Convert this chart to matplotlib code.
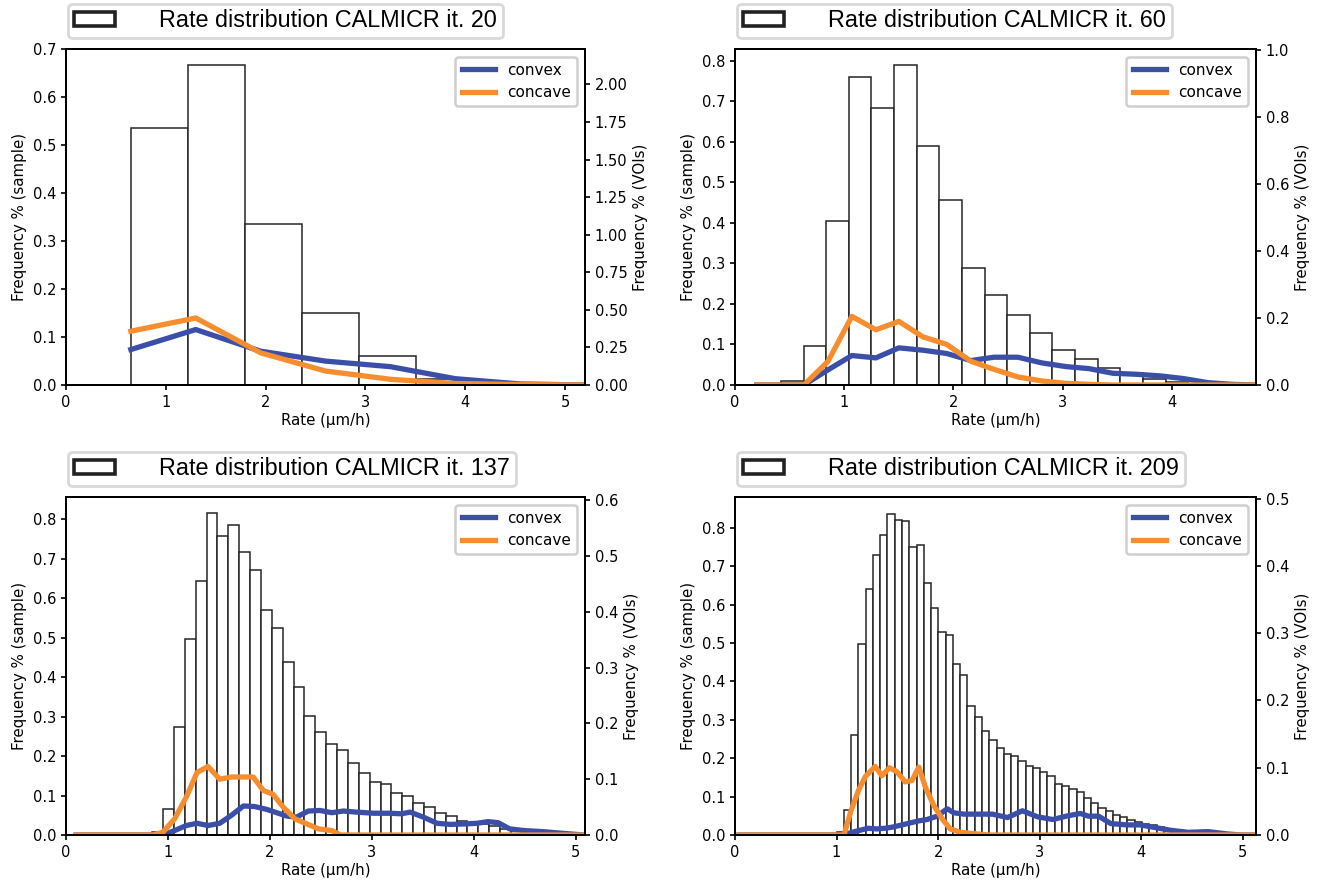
import numpy as np
import matplotlib
matplotlib.use("Agg")
import matplotlib.pyplot as plt
from matplotlib.patches import Patch

# --- data ------------------------------------------------------------------
iterations = [20, 60, 137, 209]

# histogram bin edges (first edge, last edge, number of bins) and densities
bins1 = (0.654, 4.077, 6)
hist1 = [0.535, 0.667, 0.335, 0.151, 0.060, 0.012]

bins2 = (0.42, 4.15, 18)
hist2 = [0.010, 0.096, 0.404, 0.761, 0.684, 0.790, 0.589, 0.456, 0.288,
         0.221, 0.173, 0.129, 0.086, 0.065, 0.043, 0.029, 0.016, 0.008]

bins3 = (0.846, 4.79, 37)
hist3 = [0.007, 0.065, 0.275, 0.496, 0.643, 0.817, 0.759, 0.787, 0.717,
         0.673, 0.571, 0.526, 0.439, 0.374, 0.302, 0.261, 0.230, 0.215,
         0.183, 0.158, 0.134, 0.130, 0.106, 0.098, 0.081, 0.070, 0.056,
         0.047, 0.036, 0.031, 0.028, 0.022, 0.015, 0.009, 0.006, 0.003,
         0.002]

bins4 = (0.928, 4.867, 55)
hist4 = [0.003, 0.009, 0.064, 0.261, 0.497, 0.640, 0.729, 0.780, 0.837,
         0.821, 0.817, 0.750, 0.754, 0.657, 0.591, 0.528, 0.521, 0.446,
         0.417, 0.335, 0.307, 0.270, 0.247, 0.226, 0.211, 0.206, 0.192,
         0.179, 0.174, 0.163, 0.154, 0.134, 0.127, 0.119, 0.111, 0.097,
         0.084, 0.071, 0.062, 0.053, 0.046, 0.039, 0.033, 0.029, 0.026,
         0.020, 0.016, 0.013, 0.010, 0.009, 0.007, 0.005, 0.004, 0.003,
         0.002]

# VOI curves (right axis)
x1 = [0.65, 1.30, 1.95, 2.60, 3.25, 3.90, 4.55, 5.20]
convex1 = [0.236, 0.369, 0.225, 0.159, 0.122, 0.042, 0.007, 0.0]
concave1 = [0.358, 0.446, 0.214, 0.093, 0.038, 0.010, 0.003, 0.0]

x2 = [0.20, 0.42, 0.63, 0.85, 1.07, 1.29, 1.50, 1.72, 1.94, 2.16, 2.37,
      2.59, 2.81, 3.03, 3.24, 3.46, 3.68, 3.90, 4.11, 4.33, 4.55, 4.77]
convex2 = [0, 0, 0, 0.045, 0.088, 0.081, 0.111, 0.104, 0.094, 0.073, 0.083,
           0.083, 0.066, 0.055, 0.049, 0.035, 0.032, 0.027, 0.019, 0.007,
           0.002, 0]
concave2 = [0, 0, 0, 0.070, 0.205, 0.165, 0.190, 0.144, 0.121, 0.071, 0.047,
            0.024, 0.012, 0.005, 0.002, 0, 0, 0, 0, 0, 0, 0]

x3_convex = [0.10, 0.95, 1.066, 1.18, 1.285, 1.393, 1.508, 1.62, 1.74, 1.85,
             1.967, 2.066, 2.164, 2.26, 2.377, 2.49, 2.607, 2.72, 2.85, 3.02,
             3.18, 3.29, 3.375, 3.505, 3.64, 3.77, 3.93, 4.03, 4.14, 4.24,
             4.35, 4.49, 4.68, 4.87, 5.08]
convex3 = [0, 0, 0.008, 0.017, 0.021, 0.017, 0.021, 0.035, 0.052, 0.051,
           0.046, 0.040, 0.034, 0.032, 0.043, 0.044, 0.040, 0.043, 0.041,
           0.039, 0.039, 0.038, 0.041, 0.032, 0.021, 0.019, 0.020, 0.021,
           0.024, 0.022, 0.011, 0.008, 0.006, 0.003, 0]
x3_concave = [0.10, 0.85, 0.95, 1.066, 1.18, 1.285, 1.393, 1.508, 1.62,
              1.73, 1.836, 1.934, 2.03, 2.13, 2.245, 2.36, 2.475, 2.607,
              2.69, 5.08]
concave3 = [0, 0, 0.005, 0.029, 0.068, 0.112, 0.123, 0.100, 0.104, 0.104,
            0.104, 0.080, 0.073, 0.050, 0.029, 0.020, 0.011, 0.008, 0.0, 0.0]

x4_convex = [0.04, 1.073, 1.15, 1.23, 1.31, 1.396, 1.478, 1.56, 1.644,
             1.726, 1.81, 1.89, 1.99, 2.089, 2.155, 2.254, 2.386, 2.535,
             2.683, 2.83, 2.98, 3.13, 3.26, 3.40, 3.48, 3.58, 3.70, 3.86,
             3.99, 4.14, 4.29, 4.46, 4.66, 4.85, 4.99, 5.13]
convex4 = [0, 0, 0.004, 0.007, 0.010, 0.009, 0.010, 0.012, 0.015, 0.018,
           0.021, 0.023, 0.028, 0.039, 0.033, 0.031, 0.031, 0.031, 0.026,
           0.036, 0.027, 0.023, 0.028, 0.032, 0.028, 0.028, 0.017, 0.015,
           0.015, 0.011, 0.007, 0.004, 0.005, 0.0015, 0, 0]
x4_concave = [0.04, 1.073, 1.142, 1.215, 1.284, 1.38, 1.446, 1.52, 1.594,
              1.676, 1.743, 1.81, 1.875, 1.957, 2.04, 2.12, 2.22, 2.386, 2.5,
              5.13]
concave4 = [0, 0, 0.036, 0.066, 0.087, 0.102, 0.088, 0.100, 0.094, 0.079,
            0.081, 0.101, 0.071, 0.044, 0.024, 0.009, 0.004, 0.0015, 0, 0]

BLUE = "#3b4fa8"
ORANGE = "#f68d2e"

plt.rcParams["axes.linewidth"] = 1.4
plt.rcParams["xtick.major.width"] = 1.2
plt.rcParams["ytick.major.width"] = 1.2
plt.rcParams["xtick.labelsize"] = 10.5
plt.rcParams["ytick.labelsize"] = 10.5
plt.rcParams["axes.labelsize"] = 10.8

fig = plt.figure(figsize=(13.27, 8.88), dpi=100)
W, H = 1327.0, 888.0


def rect(left, top, right, bottom):
    return [left / W, 1 - bottom / H, (right - left) / W, (bottom - top) / H]


def panel(r, bins, hist, xb, convex, xo, concave, xmax, ytop_l, ytop_r, it):
    ax = fig.add_axes(r)
    edges = np.linspace(bins[0], bins[1], bins[2] + 1)
    ax.bar(edges[:-1], hist, width=np.diff(edges), align="edge",
           facecolor="white", edgecolor="#262626", linewidth=1.1)
    ax.set_xlim(0, xmax)
    ax.set_ylim(0, ytop_l)
    ax.set_xlabel("Rate (μm/h)", labelpad=2)
    ax.set_ylabel("Frequency % (sample)")

    handle = Patch(facecolor="white", edgecolor="#222222", linewidth=2.6)
    leg = ax.legend(handles=[handle],
                    labels=[f"Rate distribution CALMICR it. {it}"],
                    loc="lower left", bbox_to_anchor=(0.004, 1.032),
                    borderaxespad=0, borderpad=0.25, handlelength=1.75,
                    handleheight=0.55, handletextpad=1.9,
                    prop={"family": "Liberation Sans", "size": 16.8})
    leg.get_frame().set_edgecolor("#cfcfcf")
    leg.get_frame().set_linewidth(2.0)

    ax2 = ax.twinx()
    ax2.plot(xb, convex, color=BLUE, lw=3.8, label="convex")
    ax2.plot(xo, concave, color=ORANGE, lw=3.8, label="concave")
    ax2.set_ylim(0, ytop_r)
    ax2.set_ylabel("Frequency % (VOIs)")
    leg2 = ax2.legend(loc="upper right", fontsize=11, handlelength=2.2)
    leg2.get_frame().set_edgecolor("#cfcfcf")
    leg2.get_frame().set_linewidth(1.8)
    leg2.get_frame().set_alpha(1)


panel(rect(66, 49, 585, 385), bins1, hist1, x1, convex1, x1, concave1,
      5.2, 0.70, 2.236, iterations[0])
panel(rect(735, 49, 1256, 385), bins2, hist2, x2, convex2, x2, concave2,
      4.77, 0.829, 1.004, iterations[1])
panel(rect(66, 497, 585, 835), bins3, hist3, x3_convex, convex3,
      x3_concave, concave3, 5.09, 0.857, 0.606, iterations[2])
panel(rect(735, 497, 1256, 835), bins4, hist4, x4_convex, convex4,
      x4_concave, concave4, 5.13, 0.88, 0.5025, iterations[3])

fig.savefig("out.png", dpi=100, facecolor="white")
